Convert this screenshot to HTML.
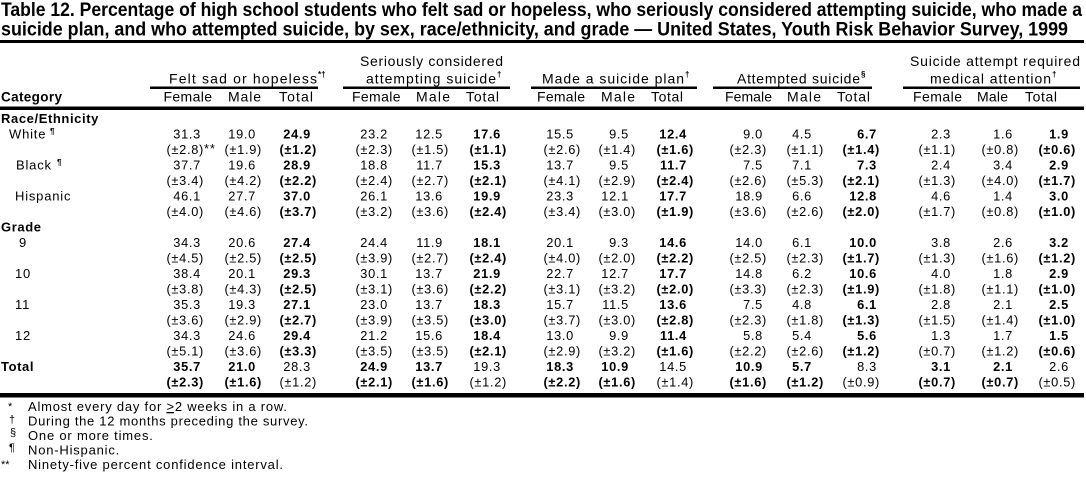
<!DOCTYPE html>
<html><head><meta charset="utf-8">
<style>
html,body{margin:0;padding:0;background:#fff;}
svg{display:block;}
text{font-family:"Liberation Sans",Arial,Helvetica,sans-serif;fill:#000;}
.t{font-size:19px;font-weight:bold;}
.h{font-size:14px;}
.hb{font-size:13.5px;font-weight:bold;}
.sup{font-size:8px;font-weight:bold;}
.l{font-size:13px;letter-spacing:0.8px;}
.lb{font-size:13px;font-weight:bold;letter-spacing:0.6px;}
.d{font-size:12.8px;letter-spacing:0.7px;text-anchor:end;}
.f{font-size:13px;}
.fm{font-size:11px;}
</style></head>
<body>
<svg width="1086" height="477" viewBox="0 0 1086 477" xmlns="http://www.w3.org/2000/svg">
<rect x="0" y="0" width="1086" height="477" fill="#fff"/>
<!-- Title -->
<text class="t" x="1" y="16" textLength="1081" lengthAdjust="spacingAndGlyphs">Table 12. Percentage of high school students who felt sad or hopeless, who seriously considered attempting suicide, who made a</text>
<text class="t" x="1" y="35.5" textLength="1067" lengthAdjust="spacingAndGlyphs">suicide plan, and who attempted suicide, by sex, race/ethnicity, and grade — United States, Youth Risk Behavior Survey, 1999</text>
<rect x="0" y="40" width="1084" height="3" fill="#000"/>

<!-- Group headers -->
<text class="h" x="169" y="83.5" textLength="148" lengthAdjust="spacing">Felt sad or hopeless</text>
<text class="sup" x="318" y="77">*†</text>
<text class="h" x="360" y="66" textLength="143" lengthAdjust="spacing">Seriously considered</text>
<text class="h" x="366" y="83.5" textLength="130" lengthAdjust="spacing">attempting suicide</text>
<text class="sup" x="497" y="77">†</text>
<text class="h" x="542" y="83.5" textLength="142" lengthAdjust="spacing">Made a suicide plan</text>
<text class="sup" x="685" y="77">†</text>
<text class="h" x="737" y="83.5" textLength="123" lengthAdjust="spacing">Attempted suicide</text>
<text class="sup" x="861" y="77">§</text>
<text class="h" x="910" y="66" textLength="170" lengthAdjust="spacing">Suicide attempt required</text>
<text class="h" x="930" y="83.5" textLength="121" lengthAdjust="spacing">medical attention</text>
<text class="sup" x="1052" y="77">†</text>

<rect x="150" y="86.5" width="168" height="2.5" fill="#000"/>
<rect x="343" y="86.5" width="167" height="2.5" fill="#000"/>
<rect x="531" y="86.5" width="166" height="2.5" fill="#000"/>
<rect x="713" y="86.5" width="159" height="2.5" fill="#000"/>
<rect x="903" y="86.5" width="177" height="2.5" fill="#000"/>

<!-- Sub headers -->
<text class="hb" x="1" y="101.5" textLength="61" lengthAdjust="spacing">Category</text>
<text class="h" x="163.5" y="101.5" textLength="48.5" lengthAdjust="spacing">Female</text>
<text class="h" x="228" y="101.5" textLength="33" lengthAdjust="spacing">Male</text>
<text class="h" x="279" y="101.5" textLength="34" lengthAdjust="spacing">Total</text>
<text class="h" x="352" y="101.5" textLength="48.5" lengthAdjust="spacing">Female</text>
<text class="h" x="416" y="101.5" textLength="34" lengthAdjust="spacing">Male</text>
<text class="h" x="466" y="101.5" textLength="33" lengthAdjust="spacing">Total</text>
<text class="h" x="537" y="101.5" textLength="48" lengthAdjust="spacing">Female</text>
<text class="h" x="601" y="101.5" textLength="34" lengthAdjust="spacing">Male</text>
<text class="h" x="651" y="101.5" textLength="32" lengthAdjust="spacing">Total</text>
<text class="h" x="725" y="101.5" textLength="47" lengthAdjust="spacing">Female</text>
<text class="h" x="787" y="101.5" textLength="34" lengthAdjust="spacing">Male</text>
<text class="h" x="837" y="101.5" textLength="33" lengthAdjust="spacing">Total</text>
<text class="h" x="913" y="101.5" textLength="49" lengthAdjust="spacing">Female</text>
<text class="h" x="977" y="101.5" textLength="31" lengthAdjust="spacing">Male</text>
<text class="h" x="1025" y="101.5" textLength="32" lengthAdjust="spacing">Total</text>

<rect x="0" y="106.5" width="1084" height="3.5" fill="#000"/>

<!-- Row labels -->
<text class="lb" x="1" y="123">Race/Ethnicity</text>
<text class="l" x="9" y="138.5">White</text><text class="sup" x="50" y="134" font-size="9">¶</text>
<text class="l" x="16" y="169.5">Black</text><text class="sup" x="57" y="165" font-size="9">¶</text>
<text class="l" x="15" y="200.5">Hispanic</text>
<text class="lb" x="1" y="231.5">Grade</text>
<text class="l" x="19" y="247">9</text>
<text class="l" x="15" y="278">10</text>
<text class="l" x="15" y="309">11</text>
<text class="l" x="15" y="340">12</text>
<text class="lb" x="1" y="371">Total</text>

<!-- White -->
<text class="d" y="138.5"><tspan x="201">31.3</tspan><tspan x="256">19.0</tspan><tspan x="311" font-weight="bold">24.9</tspan><tspan x="388">23.2</tspan><tspan x="443">12.5</tspan><tspan x="501" font-weight="bold">17.6</tspan><tspan x="574">15.5</tspan><tspan x="629">9.5</tspan><tspan x="687" font-weight="bold">12.4</tspan><tspan x="763">9.0</tspan><tspan x="812">4.5</tspan><tspan x="877" font-weight="bold">6.7</tspan><tspan x="951">2.3</tspan><tspan x="1013">1.6</tspan><tspan x="1069" font-weight="bold">1.9</tspan></text>
<text class="d" y="154"><tspan x="204">(±2.8)</tspan><tspan x="262">(±1.9)</tspan><tspan x="317" font-weight="bold">(±1.2)</tspan><tspan x="393">(±2.3)</tspan><tspan x="449">(±1.5)</tspan><tspan x="507" font-weight="bold">(±1.1)</tspan><tspan x="581">(±2.6)</tspan><tspan x="636">(±1.4)</tspan><tspan x="694" font-weight="bold">(±1.6)</tspan><tspan x="767">(±2.3)</tspan><tspan x="824">(±1.1)</tspan><tspan x="880" font-weight="bold">(±1.4)</tspan><tspan x="956">(±1.1)</tspan><tspan x="1019">(±0.8)</tspan><tspan x="1076" font-weight="bold">(±0.6)</tspan></text>
<text class="l" x="204" y="153" font-size="11">**</text>

<!-- Black -->
<text class="d" y="169.5"><tspan x="201">37.7</tspan><tspan x="256">19.6</tspan><tspan x="311" font-weight="bold">28.9</tspan><tspan x="388">18.8</tspan><tspan x="443">11.7</tspan><tspan x="501" font-weight="bold">15.3</tspan><tspan x="574">13.7</tspan><tspan x="629">9.5</tspan><tspan x="687" font-weight="bold">11.7</tspan><tspan x="763">7.5</tspan><tspan x="812">7.1</tspan><tspan x="877" font-weight="bold">7.3</tspan><tspan x="951">2.4</tspan><tspan x="1013">3.4</tspan><tspan x="1069" font-weight="bold">2.9</tspan></text>
<text class="d" y="185"><tspan x="204">(±3.4)</tspan><tspan x="262">(±4.2)</tspan><tspan x="317" font-weight="bold">(±2.2)</tspan><tspan x="393">(±2.4)</tspan><tspan x="449">(±2.7)</tspan><tspan x="507" font-weight="bold">(±2.1)</tspan><tspan x="581">(±4.1)</tspan><tspan x="636">(±2.9)</tspan><tspan x="694" font-weight="bold">(±2.4)</tspan><tspan x="767">(±2.6)</tspan><tspan x="824">(±5.3)</tspan><tspan x="880" font-weight="bold">(±2.1)</tspan><tspan x="956">(±1.3)</tspan><tspan x="1019">(±4.0)</tspan><tspan x="1076" font-weight="bold">(±1.7)</tspan></text>

<!-- Hispanic -->
<text class="d" y="200.5"><tspan x="201">46.1</tspan><tspan x="256">27.7</tspan><tspan x="311" font-weight="bold">37.0</tspan><tspan x="388">26.1</tspan><tspan x="443">13.6</tspan><tspan x="501" font-weight="bold">19.9</tspan><tspan x="574">23.3</tspan><tspan x="629">12.1</tspan><tspan x="687" font-weight="bold">17.7</tspan><tspan x="763">18.9</tspan><tspan x="812">6.6</tspan><tspan x="877" font-weight="bold">12.8</tspan><tspan x="951">4.6</tspan><tspan x="1013">1.4</tspan><tspan x="1069" font-weight="bold">3.0</tspan></text>
<text class="d" y="216"><tspan x="204">(±4.0)</tspan><tspan x="262">(±4.6)</tspan><tspan x="317" font-weight="bold">(±3.7)</tspan><tspan x="393">(±3.2)</tspan><tspan x="449">(±3.6)</tspan><tspan x="507" font-weight="bold">(±2.4)</tspan><tspan x="581">(±3.4)</tspan><tspan x="636">(±3.0)</tspan><tspan x="694" font-weight="bold">(±1.9)</tspan><tspan x="767">(±3.6)</tspan><tspan x="824">(±2.6)</tspan><tspan x="880" font-weight="bold">(±2.0)</tspan><tspan x="956">(±1.7)</tspan><tspan x="1019">(±0.8)</tspan><tspan x="1076" font-weight="bold">(±1.0)</tspan></text>

<!-- 9 -->
<text class="d" y="247"><tspan x="201">34.3</tspan><tspan x="256">20.6</tspan><tspan x="311" font-weight="bold">27.4</tspan><tspan x="388">24.4</tspan><tspan x="443">11.9</tspan><tspan x="501" font-weight="bold">18.1</tspan><tspan x="574">20.1</tspan><tspan x="629">9.3</tspan><tspan x="687" font-weight="bold">14.6</tspan><tspan x="763">14.0</tspan><tspan x="812">6.1</tspan><tspan x="877" font-weight="bold">10.0</tspan><tspan x="951">3.8</tspan><tspan x="1013">2.6</tspan><tspan x="1069" font-weight="bold">3.2</tspan></text>
<text class="d" y="262.5"><tspan x="204">(±4.5)</tspan><tspan x="262">(±2.5)</tspan><tspan x="317" font-weight="bold">(±2.5)</tspan><tspan x="393">(±3.9)</tspan><tspan x="449">(±2.7)</tspan><tspan x="507" font-weight="bold">(±2.4)</tspan><tspan x="581">(±4.0)</tspan><tspan x="636">(±2.0)</tspan><tspan x="694" font-weight="bold">(±2.2)</tspan><tspan x="767">(±2.5)</tspan><tspan x="824">(±2.3)</tspan><tspan x="880" font-weight="bold">(±1.7)</tspan><tspan x="956">(±1.3)</tspan><tspan x="1019">(±1.6)</tspan><tspan x="1076" font-weight="bold">(±1.2)</tspan></text>

<!-- 10 -->
<text class="d" y="278"><tspan x="201">38.4</tspan><tspan x="256">20.1</tspan><tspan x="311" font-weight="bold">29.3</tspan><tspan x="388">30.1</tspan><tspan x="443">13.7</tspan><tspan x="501" font-weight="bold">21.9</tspan><tspan x="574">22.7</tspan><tspan x="629">12.7</tspan><tspan x="687" font-weight="bold">17.7</tspan><tspan x="763">14.8</tspan><tspan x="812">6.2</tspan><tspan x="877" font-weight="bold">10.6</tspan><tspan x="951">4.0</tspan><tspan x="1013">1.8</tspan><tspan x="1069" font-weight="bold">2.9</tspan></text>
<text class="d" y="293.5"><tspan x="204">(±3.8)</tspan><tspan x="262">(±4.3)</tspan><tspan x="317" font-weight="bold">(±2.5)</tspan><tspan x="393">(±3.1)</tspan><tspan x="449">(±3.6)</tspan><tspan x="507" font-weight="bold">(±2.2)</tspan><tspan x="581">(±3.1)</tspan><tspan x="636">(±3.2)</tspan><tspan x="694" font-weight="bold">(±2.0)</tspan><tspan x="767">(±3.3)</tspan><tspan x="824">(±2.3)</tspan><tspan x="880" font-weight="bold">(±1.9)</tspan><tspan x="956">(±1.8)</tspan><tspan x="1019">(±1.1)</tspan><tspan x="1076" font-weight="bold">(±1.0)</tspan></text>

<!-- 11 -->
<text class="d" y="309"><tspan x="201">35.3</tspan><tspan x="256">19.3</tspan><tspan x="311" font-weight="bold">27.1</tspan><tspan x="388">23.0</tspan><tspan x="443">13.7</tspan><tspan x="501" font-weight="bold">18.3</tspan><tspan x="574">15.7</tspan><tspan x="629">11.5</tspan><tspan x="687" font-weight="bold">13.6</tspan><tspan x="763">7.5</tspan><tspan x="812">4.8</tspan><tspan x="877" font-weight="bold">6.1</tspan><tspan x="951">2.8</tspan><tspan x="1013">2.1</tspan><tspan x="1069" font-weight="bold">2.5</tspan></text>
<text class="d" y="324.5"><tspan x="204">(±3.6)</tspan><tspan x="262">(±2.9)</tspan><tspan x="317" font-weight="bold">(±2.7)</tspan><tspan x="393">(±3.9)</tspan><tspan x="449">(±3.5)</tspan><tspan x="507" font-weight="bold">(±3.0)</tspan><tspan x="581">(±3.7)</tspan><tspan x="636">(±3.0)</tspan><tspan x="694" font-weight="bold">(±2.8)</tspan><tspan x="767">(±2.3)</tspan><tspan x="824">(±1.8)</tspan><tspan x="880" font-weight="bold">(±1.3)</tspan><tspan x="956">(±1.5)</tspan><tspan x="1019">(±1.4)</tspan><tspan x="1076" font-weight="bold">(±1.0)</tspan></text>

<!-- 12 -->
<text class="d" y="340"><tspan x="201">34.3</tspan><tspan x="256">24.6</tspan><tspan x="311" font-weight="bold">29.4</tspan><tspan x="388">21.2</tspan><tspan x="443">15.6</tspan><tspan x="501" font-weight="bold">18.4</tspan><tspan x="574">13.0</tspan><tspan x="629">9.9</tspan><tspan x="687" font-weight="bold">11.4</tspan><tspan x="763">5.8</tspan><tspan x="812">5.4</tspan><tspan x="877" font-weight="bold">5.6</tspan><tspan x="951">1.3</tspan><tspan x="1013">1.7</tspan><tspan x="1069" font-weight="bold">1.5</tspan></text>
<text class="d" y="355.5"><tspan x="204">(±5.1)</tspan><tspan x="262">(±3.6)</tspan><tspan x="317" font-weight="bold">(±3.3)</tspan><tspan x="393">(±3.5)</tspan><tspan x="449">(±3.5)</tspan><tspan x="507" font-weight="bold">(±2.1)</tspan><tspan x="581">(±2.9)</tspan><tspan x="636">(±3.2)</tspan><tspan x="694" font-weight="bold">(±1.6)</tspan><tspan x="767">(±2.2)</tspan><tspan x="824">(±2.6)</tspan><tspan x="880" font-weight="bold">(±1.2)</tspan><tspan x="956">(±0.7)</tspan><tspan x="1019">(±1.2)</tspan><tspan x="1076" font-weight="bold">(±0.6)</tspan></text>

<!-- Total -->
<text class="d" y="371"><tspan x="201" font-weight="bold">35.7</tspan><tspan x="256" font-weight="bold">21.0</tspan><tspan x="311">28.3</tspan><tspan x="388" font-weight="bold">24.9</tspan><tspan x="443" font-weight="bold">13.7</tspan><tspan x="501">19.3</tspan><tspan x="574" font-weight="bold">18.3</tspan><tspan x="629" font-weight="bold">10.9</tspan><tspan x="687">14.5</tspan><tspan x="763" font-weight="bold">10.9</tspan><tspan x="812" font-weight="bold">5.7</tspan><tspan x="877">8.3</tspan><tspan x="951" font-weight="bold">3.1</tspan><tspan x="1013" font-weight="bold">2.1</tspan><tspan x="1069">2.6</tspan></text>
<text class="d" y="386.5"><tspan x="204" font-weight="bold">(±2.3)</tspan><tspan x="262" font-weight="bold">(±1.6)</tspan><tspan x="317">(±1.2)</tspan><tspan x="393" font-weight="bold">(±2.1)</tspan><tspan x="449" font-weight="bold">(±1.6)</tspan><tspan x="507">(±1.2)</tspan><tspan x="581" font-weight="bold">(±2.2)</tspan><tspan x="636" font-weight="bold">(±1.6)</tspan><tspan x="694">(±1.4)</tspan><tspan x="767" font-weight="bold">(±1.6)</tspan><tspan x="824" font-weight="bold">(±1.2)</tspan><tspan x="880">(±0.9)</tspan><tspan x="956" font-weight="bold">(±0.7)</tspan><tspan x="1019" font-weight="bold">(±0.7)</tspan><tspan x="1076">(±0.5)</tspan></text>

<rect x="0" y="393" width="1084" height="4.5" fill="#000"/>

<!-- Footnotes -->
<text class="fm" x="8" y="410">*</text>
<text class="f" x="28" y="411" textLength="259" lengthAdjust="spacing">Almost every day for <tspan text-decoration="underline">&gt;</tspan>2 weeks in a row.</text>
<text class="fm" x="9" y="423">†</text>
<text class="f" x="28" y="425.5" textLength="280" lengthAdjust="spacing">During the 12 months preceding the survey.</text>
<text class="fm" x="10" y="436" font-size="9">§</text>
<text class="f" x="28" y="440" letter-spacing="0.8">One or more times.</text>
<text class="fm" x="9" y="451" font-size="10">¶</text>
<text class="f" x="28" y="454.5" letter-spacing="0.8">Non-Hispanic.</text>
<text class="fm" x="1" y="468">**</text>
<text class="f" x="28" y="469" textLength="255" lengthAdjust="spacing">Ninety-five percent confidence interval.</text>
</svg>
</body></html>
